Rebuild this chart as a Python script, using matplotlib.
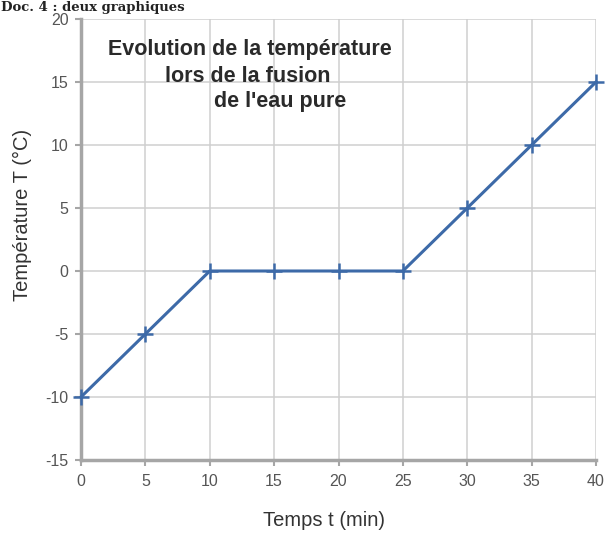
import matplotlib
matplotlib.use("Agg")
import matplotlib.pyplot as plt

plt.rcParams["axes.unicode_minus"] = False
plt.rcParams["font.family"] = ["Liberation Sans", "DejaVu Sans"]

temps = [0, 5, 10, 15, 20, 25, 30, 35, 40]
temperature = [-10, -5, 0, 0, 0, 0, 5, 10, 15]
xticks = [0, 5, 10, 15, 20, 25, 30, 35, 40]
yticks = [-15, -10, -5, 0, 5, 10, 15, 20]

fig = plt.figure(figsize=(6.08, 5.33), dpi=100)
ax = fig.add_axes([81/608, 1-460/533, (596-81)/608, (460-19)/533])

ax.plot(temps, temperature, color="#3d6aa8", lw=2.2, marker="+", ms=11, mew=1.8, clip_on=False, zorder=3)

ax.set_xlim(0, 40)
ax.set_ylim(-15, 20)
ax.set_xticks(xticks)
ax.set_yticks(yticks)
ax.grid(True, color="#cfcfcf", lw=1.1)
ax.set_axisbelow(True)
for s in ["top", "right"]:
    ax.spines[s].set_visible(False)
for s in ["left", "bottom"]:
    ax.spines[s].set_color("#a6a6a6")
    ax.spines[s].set_linewidth(2.5)
ax.tick_params(colors="#a6a6a6", labelcolor="#555555", labelsize=11.5, length=4, width=1.5)
ax.tick_params(axis="x", pad=6)
ax.tick_params(axis="y", pad=5)

ax.set_xlabel("Temps t (min)", fontsize=14.5, color="#333333")
ax.set_ylabel("Température T (°C)", fontsize=14.5, color="#333333")
ax.xaxis.set_label_coords(324/608, 1-521/533, transform=fig.transFigure)
ax.yaxis.set_label_coords(22/608, 1-215/533, transform=fig.transFigure)
ax.xaxis.label.set_va("center")
ax.yaxis.label.set_va("center")

tkw = dict(fontsize=15.5, fontweight="bold", fontstretch="condensed", color="#2a2a2a",
           ha="center", va="center", transform=fig.transFigure)
fig.text(250/608, 1-50/533, "Evolution de la température", **tkw)
fig.text(248/608, 1-76/533, "lors de la fusion", **tkw)
fig.text(280/608, 1-101/533, "de l'eau pure", **tkw)

fig.text(0.002, 0.998, "Doc. 4 : deux graphiques", fontsize=9.5, fontweight="bold",
         family="DejaVu Serif", ha="left", va="top", color="#222222")

fig.savefig("out.png", dpi=100)
